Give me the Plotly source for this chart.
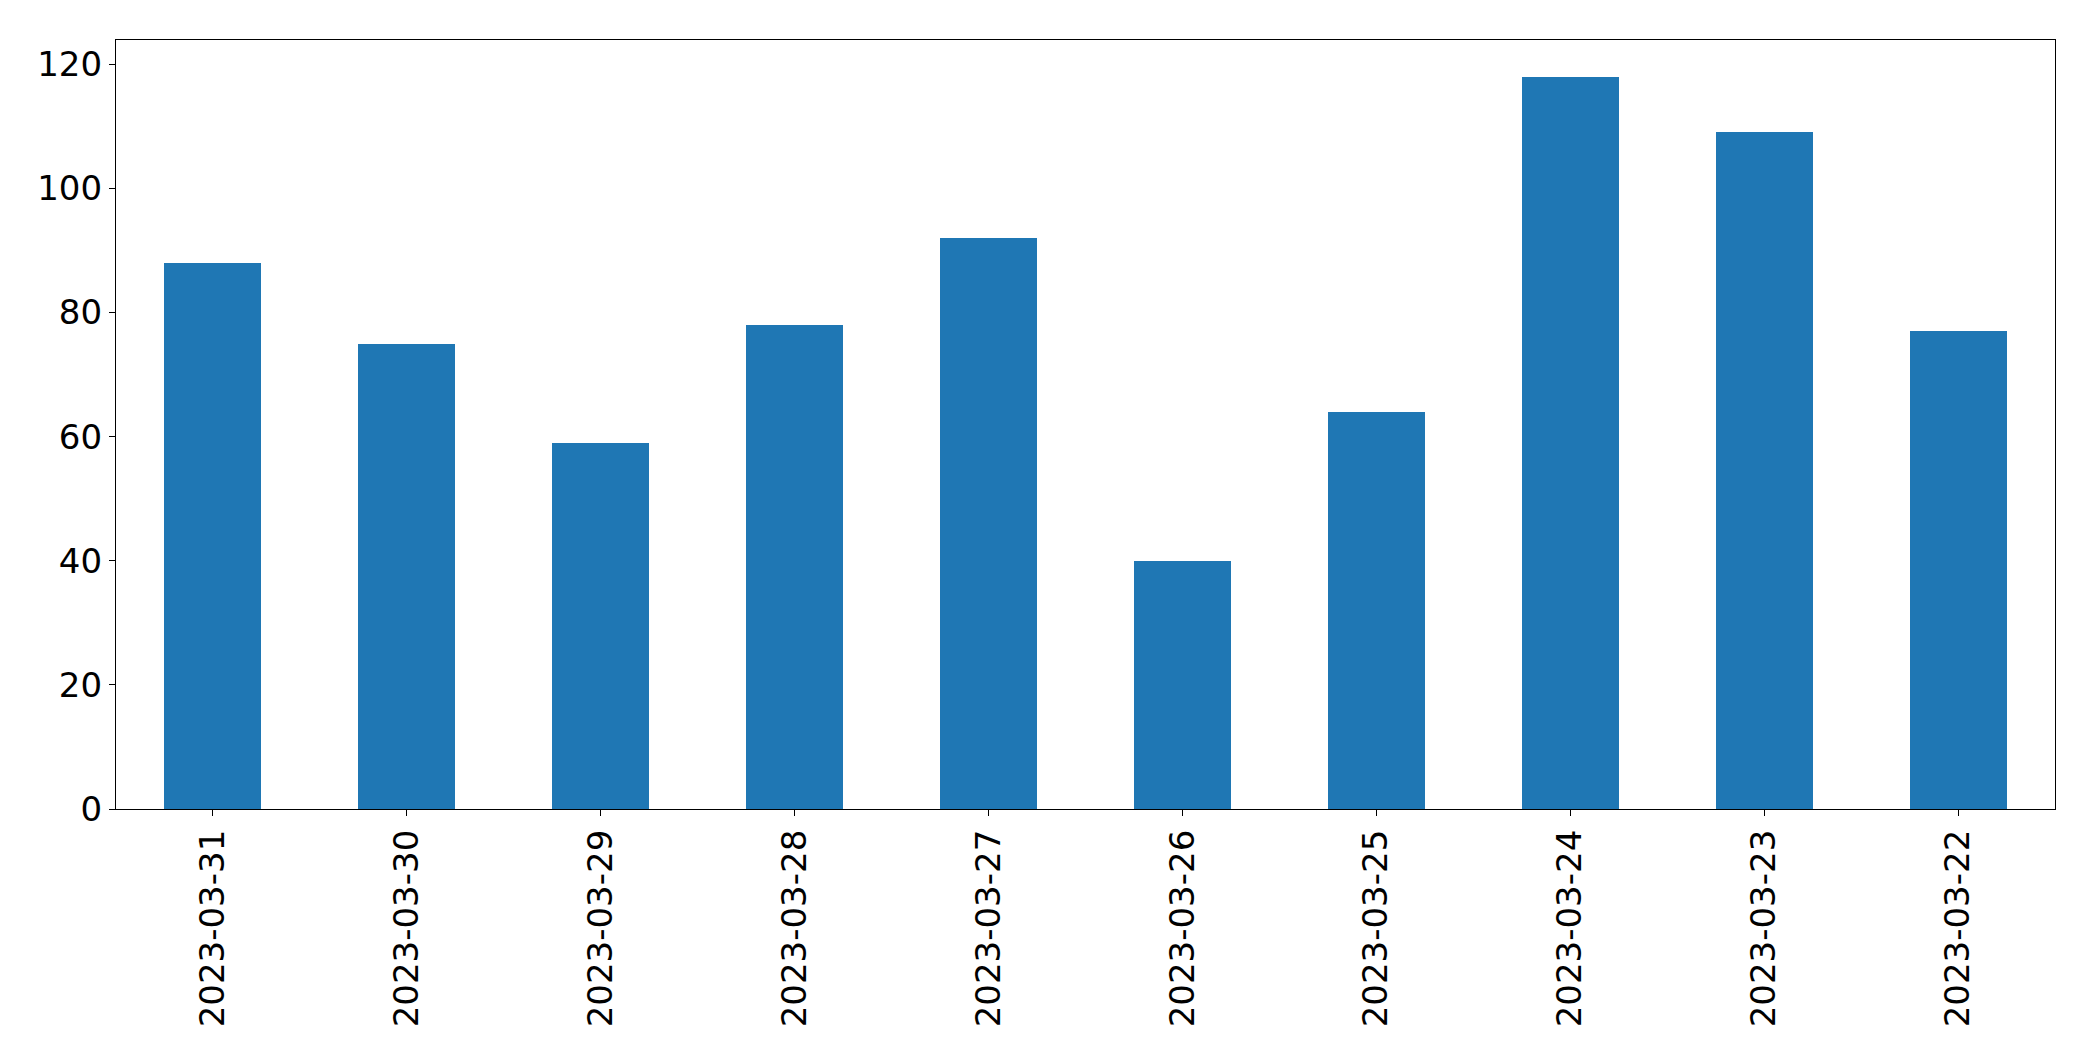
import plotly.graph_objects as go

dates = ["2023-03-31", "2023-03-30", "2023-03-29", "2023-03-28", "2023-03-27",
         "2023-03-26", "2023-03-25", "2023-03-24", "2023-03-23", "2023-03-22"]
values = [88, 75, 59, 78, 92, 40, 64, 118, 109, 77]
y_ticks = [0, 20, 40, 60, 80, 100, 120]

fig = go.Figure(go.Bar(x=dates, y=values, width=0.5, marker=dict(color="#1f77b4", line=dict(width=0))))

fig.update_layout(
    width=2093, height=1061,
    margin=dict(l=116, r=38, t=40, b=252),
    paper_bgcolor="white", plot_bgcolor="white",
    font=dict(family="DejaVu Sans", size=34, color="black"),
    showlegend=False,
    bargap=0,
)
fig.update_xaxes(
    type="category", range=[-0.5, 9.5], tickangle=-90,
    showline=True, mirror=True, linecolor="black", linewidth=1.3,
    ticks="outside", ticklen=6, tickcolor="black", showgrid=False, zeroline=False,
)
fig.update_yaxes(
    range=[0, 123.9], tickvals=y_ticks,
    showline=True, mirror=True, linecolor="black", linewidth=1.3,
    ticks="outside", ticklen=6, tickcolor="black", showgrid=False, zeroline=False,
)
fig.write_html("out.html")
